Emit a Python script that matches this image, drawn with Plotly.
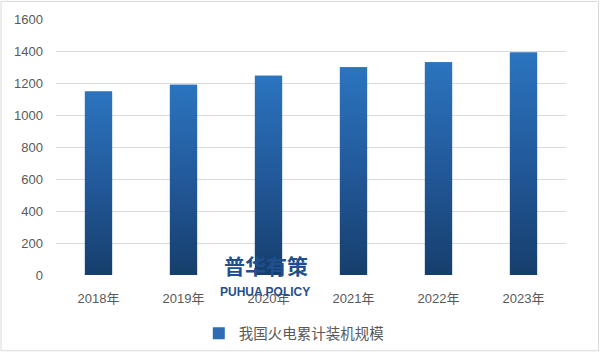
import plotly.graph_objects as go

years = ["2018年", "2019年", "2020年", "2021年", "2022年", "2023年"]
capacity = [1147, 1189, 1245, 1299, 1330, 1390]
series_name = "我国火电累计装机规模"
y_ticks = [0, 200, 400, 600, 800, 1000, 1200, 1400, 1600]

BAR_W = 0.32
FONT = "Liberation Sans, Noto Sans CJK SC, sans-serif"
idx = list(range(len(years)))

fig = go.Figure()

# base bar trace (gives legend entry)
fig.add_trace(go.Bar(
    x=idx, y=capacity, width=BAR_W, name=series_name,
    marker=dict(color="#2e6db4", line=dict(width=0)),
    hoverinfo="skip",
))

# gradient overlay for each bar (Plotly bars lack gradients)
for i, v in zip(idx, capacity):
    fig.add_trace(go.Scatter(
        x=[i - BAR_W / 2, i + BAR_W / 2, i + BAR_W / 2, i - BAR_W / 2, i - BAR_W / 2],
        y=[0, 0, v, v, 0],
        mode="none", fill="toself", showlegend=False, hoverinfo="skip",
        fillgradient=dict(type="vertical",
                          colorscale=[[0, "#163e6c"], [0.5, "#22599a"], [1, "#2b74bf"]]),
    ))

L, R, T, B = 56, 35, 19, 80
W, H = 601, 361
pw, ph = W - L - R, H - T - B

fig.update_layout(
    width=W, height=H, autosize=False,
    margin=dict(l=L, r=R, t=T, b=B),
    paper_bgcolor="white", plot_bgcolor="white",
    font=dict(family=FONT, size=13, color="#595959"),
    showlegend=True,
    legend=dict(orientation="h", x=0.28, xanchor="left", y=-0.228, yanchor="middle",
                font=dict(size=14.5, color="#595959"), itemwidth=30,
                bgcolor="rgba(0,0,0,0)"),
    xaxis=dict(range=[-0.5, 5.5], tickvals=idx, ticktext=years, showgrid=False,
               zeroline=False, showline=False, ticks="", ticklabelstandoff=14,
               tickfont=dict(size=13, color="#595959")),
    yaxis=dict(range=[0, 1600], tickvals=y_ticks, showgrid=True, gridcolor="#d9d9d9",
               gridwidth=1, zeroline=False, showline=False, ticks="",
               ticklabelstandoff=12, tickfont=dict(size=13, color="#595959")),
    shapes=[dict(type="rect", xref="paper", yref="paper",
                 x0=(1 - L) / pw, x1=(598.5 - L) / pw,
                 y0=(H - B - 358.5) / ph, y1=(H - B - 1) / ph,
                 line=dict(color="#d9d9d9", width=1), fillcolor="rgba(0,0,0,0)",
                 layer="below")],
    annotations=[
        dict(text="<b>普华有策</b>", xref="paper", yref="paper",
             x=(266 - L) / pw, y=(H - B - 271) / ph, showarrow=False,
             xanchor="center", yanchor="middle",
             font=dict(family="Noto Sans CJK SC", size=21, color="#1f4f8e")),
        dict(text="<b>PUHUA POLICY</b>", xref="paper", yref="paper",
             x=(265 - L) / pw, y=(H - B - 298) / ph, showarrow=False,
             xanchor="center", yanchor="middle",
             font=dict(family="Liberation Sans Narrow, Arial Narrow, Liberation Sans", size=12,
                       color="#1f4f8e")),
    ],
)

fig.write_html(
    "out.html",
    config={"displayModeBar": False, "responsive": False},
    post_script="document.body.style.margin='0';document.body.style.overflow='hidden';",
)
